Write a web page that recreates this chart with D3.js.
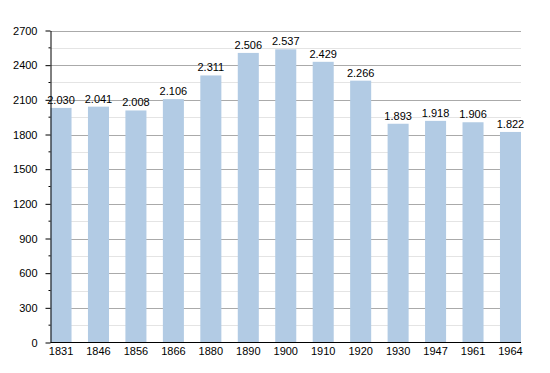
<!DOCTYPE html>
<html>
<head>
<meta charset="utf-8">
<script src="https://d3js.org/d3.v7.min.js"></script>
<style>
  body { margin: 0; background: #fff; }
  text { font-family: "Liberation Sans", Arial, sans-serif; }
</style>
</head>
<body>
<script>
  // population per census year
  const years = ['1831', '1846', '1856', '1866', '1880', '1890', '1900', '1910', '1920', '1930', '1947', '1961', '1964'];
  const population = [2030, 2041, 2008, 2106, 2311, 2506, 2537, 2429, 2266, 1893, 1918, 1906, 1822];
  const majorTicks = [0, 300, 600, 900, 1200, 1500, 1800, 2100, 2400, 2700];
  const minorTicks = [150, 450, 750, 1050, 1350, 1650, 1950, 2250, 2550];

  const width = 550, height = 373;
  const mLeft = 50.5, mRight = 521, mTop = 30.5, mBottom = 342.5;

  var svg = d3.select('body').append('svg')
    .attr('width', width)
    .attr('height', height);

  var y = d3.scaleLinear().domain([0, 2700]).range([mBottom, mTop]);

  // first bar sits on the axis, last one ends at the right edge
  var x = d3.scaleBand().domain(years)
    .range([mLeft, mRight])
    .paddingInner(0.4385)
    .paddingOuter(0)
    .align(0);

  // grid
  svg.append('g').selectAll('line')
    .data(minorTicks).enter().append('line')
    .attr('x1', mLeft).attr('x2', mRight)
    .attr('y1', d => Math.round(y(d)) + 0.5).attr('y2', d => Math.round(y(d)) + 0.5)
    .attr('stroke', '#e4e4e4');
  svg.append('g').selectAll('line')
    .data(majorTicks.slice(1)).enter().append('line')
    .attr('x1', mLeft).attr('x2', mRight)
    .attr('y1', d => Math.round(y(d)) + 0.5).attr('y2', d => Math.round(y(d)) + 0.5)
    .attr('stroke', '#aaaaaa');

  // bars
  svg.append('g').selectAll('rect')
    .data(population).enter().append('rect')
    .attr('x', (d, i) => x(years[i]))
    .attr('width', x.bandwidth())
    .attr('y', d => y(d))
    .attr('height', d => mBottom - y(d))
    .attr('fill', '#b2cbe4');

  // value labels
  svg.append('g').selectAll('text')
    .data(population).enter().append('text')
    .attr('x', (d, i) => x(years[i]) + x.bandwidth() / 2)
    .attr('y', d => y(d) - 4)
    .attr('text-anchor', 'middle')
    .attr('font-size', '11px')
    .attr('fill', '#000')
    .text(d => d3.format(',')(d).replace(',', '.'));

  // y axis
  var yAxis = svg.append('g')
    .attr('transform', 'translate(' + mLeft + ',0)')
    .call(d3.axisLeft(y).tickValues(majorTicks).tickFormat(d3.format('d'))
      .tickSize(5).tickPadding(8).tickSizeOuter(0));
  yAxis.selectAll('text').attr('font-size', '11px').attr('fill', '#000').style('font-family', '"Liberation Sans", Arial, sans-serif');
  yAxis.select('.domain').attr('stroke', '#000');
  yAxis.selectAll('.tick line').attr('stroke', '#000');
  yAxis.append('g').selectAll('line')
    .data(minorTicks).enter().append('line')
    .attr('x1', -2).attr('x2', 0)
    .attr('y1', d => y(d)).attr('y2', d => y(d))
    .attr('stroke', '#000');

  // x axis
  var xAxis = svg.append('g')
    .attr('transform', 'translate(0,' + mBottom + ')')
    .call(d3.axisBottom(x).tickSize(0).tickPadding(5));
  xAxis.select('.domain').remove();
  xAxis.selectAll('text').attr('font-size', '11px').attr('fill', '#000').style('font-family', '"Liberation Sans", Arial, sans-serif');
  svg.append('line')
    .attr('x1', mLeft).attr('x2', mRight)
    .attr('y1', mBottom).attr('y2', mBottom)
    .attr('stroke', '#000');
</script>
</body>
</html>
